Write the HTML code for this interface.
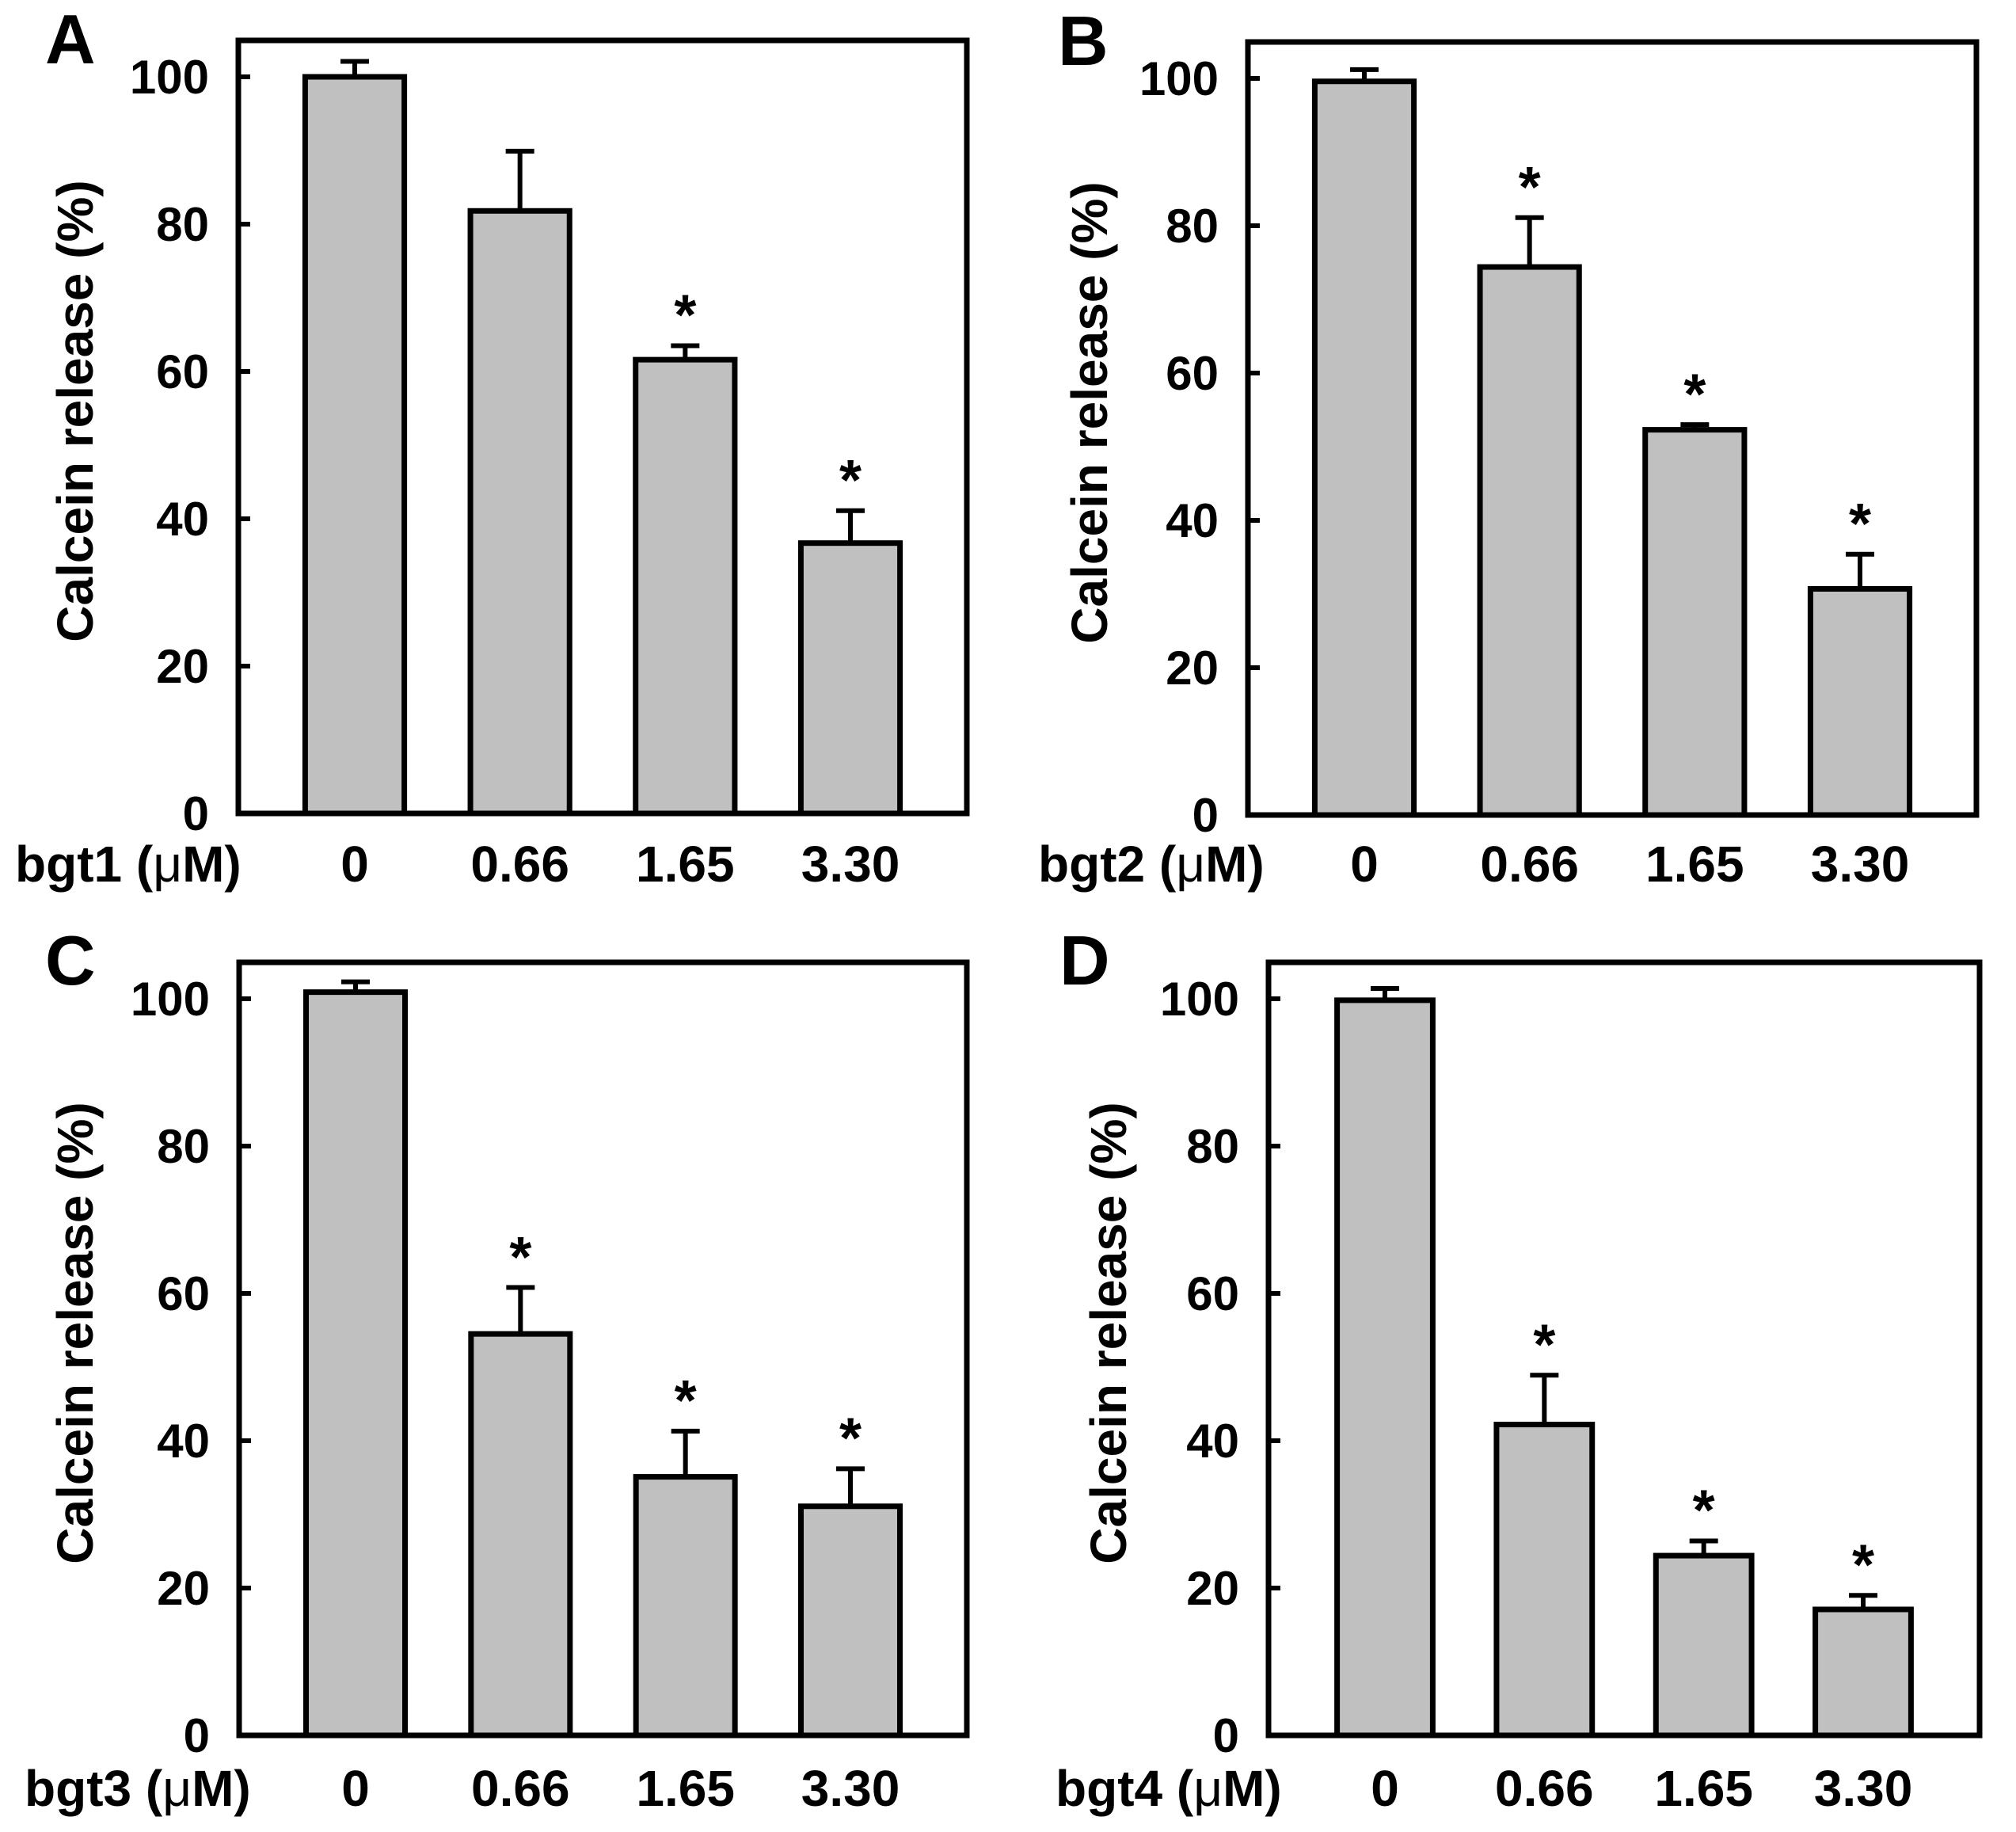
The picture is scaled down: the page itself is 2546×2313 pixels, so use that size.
<!DOCTYPE html>
<html><head><meta charset="utf-8">
<style>
html,body{margin:0;padding:0;background:#fff;}
svg{display:block;font-family:"Liberation Sans",Arial,sans-serif;font-weight:bold;}
</style></head>
<body>
<svg id="fig" width="2546" height="2313" viewBox="0 0 2546 2313" xmlns="http://www.w3.org/2000/svg"></svg>
<script>
const categories = ["0", "0.66", "1.65", "3.30"];
const yTicks = [0, 20, 40, 60, 80, 100];
const valuesA = [100.0, 81.8, 61.6, 36.7];
const errorsA = [2.1, 8.1, 1.9, 4.4];
const sigA = [false, false, true, true];
const valuesB = [99.6, 74.4, 52.3, 30.7];
const errorsB = [1.6, 6.7, 0.7, 4.7];
const sigB = [false, true, true, true];
const valuesC = [100.9, 54.5, 35.1, 31.1];
const errorsC = [1.4, 6.3, 6.2, 5.1];
const sigC = [false, true, true, true];
const valuesD = [99.8, 42.2, 24.4, 17.1];
const errorsD = [1.6, 6.7, 2.0, 1.9];
const sigD = [false, true, true, true];

const NS = "http://www.w3.org/2000/svg";
const svg = document.getElementById("fig");
function mk(tag, attrs, parent) {
  const e = document.createElementNS(NS, tag);
  for (const k in attrs) e.setAttribute(k, attrs[k]);
  (parent || svg).appendChild(e);
  return e;
}

const panels = [
  {id:"a", letter:"A", drug:"bgt1", vals:valuesA, errs:errorsA, sig:sigA, L:301, R:1221, T:51, B:1027, letterX:57, letterY:80, titleX:95, xlabX:19, xlabY:1113},
  {id:"b", letter:"B", drug:"bgt2", vals:valuesB, errs:errorsB, sig:sigB, L:1576, R:2496, T:53, B:1029, letterX:1336, letterY:82, titleX:1376, xlabX:1311, xlabY:1113},
  {id:"c", letter:"C", drug:"bgt3", vals:valuesC, errs:errorsC, sig:sigC, L:302, R:1221, T:1215, B:2191, letterX:57, letterY:1243, titleX:95, xlabX:31, xlabY:2280},
  {id:"d", letter:"D", drug:"bgt4", vals:valuesD, errs:errorsD, sig:sigD, L:1602, R:2500, T:1215, B:2191, letterX:1338, letterY:1243, titleX:1400, xlabX:1333, xlabY:2280}
];

panels.forEach(p => {
  const g = mk("g", {});
  
  
  const pxPerUnit = 9.3;
  const y = v => p.B - v * pxPerUnit;
  const margin = 147;
  const step = (p.R - p.L - 2 * margin) / (categories.length - 1);
  const x = i => p.L + margin + step * i;
  const bw = step * 0.6;

  const lt = mk("text", {x:p.letterX, y:p.letterY, "font-size":88, fill:"#000"}, g);
  lt.textContent = p.letter;
  
  

  p.vals.forEach((v, i) => {
    const r = mk("rect", {x:x(i) - bw/2, y:y(v), width:bw, height:p.B - y(v), fill:"#c0c0c0", stroke:"#000", "stroke-width":7}, g);
    
    
    const top = y(v + p.errs[i]);
    const eb = mk("path", {d:"M" + x(i) + " " + y(v) + " V" + top + " M" + (x(i) - 18) + " " + top + " H" + (x(i) + 18), stroke:"#000", "stroke-width":6, fill:"none"}, g);
    
    
    if (p.sig[i]) {
      const s = mk("text", {x:x(i), y:y(v + p.errs[i] + 6) + 42, "font-size":72, "text-anchor":"middle", fill:"#000"}, g);
      s.textContent = "*";
      
      
    }
    const cl = mk("text", {x:x(i), y:p.xlabY, "font-size":64, "text-anchor":"middle", fill:"#000"}, g);
    cl.textContent = categories[i];
    
    
  });

  const fr = mk("rect", {x:p.L, y:p.T, width:p.R - p.L, height:p.B - p.T, fill:"none", stroke:"#000", "stroke-width":7}, g);
  
  

  yTicks.forEach(t => {
    const tk = mk("line", {x1:p.L, x2:p.L + 15, y1:y(t), y2:y(t), stroke:"#000", "stroke-width":6}, g);
    
    
    const tl = mk("text", {x:p.L - 37, y:y(t) + 21, "font-size":60, "text-anchor":"end", fill:"#000"}, g);
    tl.textContent = String(t);
    
    
  });

  const cy = (p.T + p.B) / 2 - 20;
  const yt = mk("text", {x:p.titleX, y:cy, "font-size":64, "text-anchor":"middle", "dominant-baseline":"central", transform:"rotate(-90 " + p.titleX + " " + cy + ")", fill:"#000"}, g);
  yt.textContent = "Calcein release (%)";
  
  

  const xl = mk("text", {x:p.xlabX, y:p.xlabY, "font-size":64, fill:"#000"}, g);
  
  
  const t1 = mk("tspan", {}, xl); t1.textContent = p.drug + " (";
  const t2 = mk("tspan", {"font-weight":"normal"}, xl); t2.textContent = "\u03BC";
  const t3 = mk("tspan", {}, xl); t3.textContent = "M)";
});
</script>
</body></html>
